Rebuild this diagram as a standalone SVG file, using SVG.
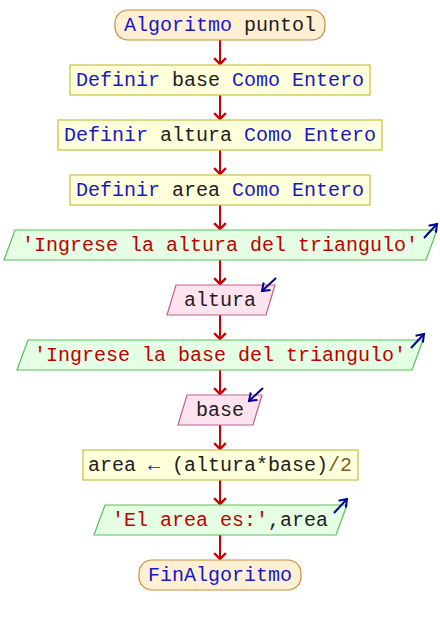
<svg xmlns="http://www.w3.org/2000/svg" width="440" height="625" viewBox="0 0 440 625">
<defs>
<style>
.t{font-family:"Liberation Mono","Courier New",monospace;font-size:20px;text-anchor:middle;fill:#202020}
.k{fill:#1818c8}
.s{fill:#c00000}
.n{fill:#806020}
.term{fill:#fff0d4;stroke:#cc8c3c;stroke-width:1.2}
.proc{fill:#ffffdc;stroke:#c4c040;stroke-width:1.2}
.out{fill:#e4ffe4;stroke:#58c058;stroke-width:1.2}
.inp{fill:#ffe4f0;stroke:#c06088;stroke-width:1.2}
.ico{stroke:#000090;stroke-width:2;fill:none}
.c{stroke:#cc0000;stroke-width:2;fill:none}
</style>
<marker id="ah" markerUnits="userSpaceOnUse" markerWidth="14" markerHeight="10" refX="6" refY="6" orient="0" viewBox="0 0 12 8" overflow="visible">
<path d="M1,1 L6,6 L11,1" stroke="#cc0000" stroke-width="2" fill="none"/>
</marker>
<marker id="ih" markerUnits="userSpaceOnUse" markerWidth="12" markerHeight="12" refX="8" refY="5" orient="auto" viewBox="0 0 12 10" overflow="visible">
<path d="M1,0 L8,5 L1,10" stroke="#000090" stroke-width="2" fill="none"/>
</marker>
</defs>
<g id="connectors">
<line class="c" x1="220" y1="40" x2="220" y2="64" marker-end="url(#ah)"/>
<line class="c" x1="220" y1="95" x2="220" y2="119" marker-end="url(#ah)"/>
<line class="c" x1="220" y1="150" x2="220" y2="174" marker-end="url(#ah)"/>
<line class="c" x1="220" y1="205" x2="220" y2="229" marker-end="url(#ah)"/>
<line class="c" x1="220" y1="260" x2="220" y2="284" marker-end="url(#ah)"/>
<line class="c" x1="220" y1="315" x2="220" y2="339" marker-end="url(#ah)"/>
<line class="c" x1="220" y1="370" x2="220" y2="394" marker-end="url(#ah)"/>
<line class="c" x1="220" y1="425" x2="220" y2="449" marker-end="url(#ah)"/>
<line class="c" x1="220" y1="480" x2="220" y2="504" marker-end="url(#ah)"/>
<line class="c" x1="220" y1="535" x2="220" y2="559" marker-end="url(#ah)"/>
</g>
<g id="start">
<rect class="term" x="115" y="10" width="210" height="30" rx="13" ry="13"/>
<text class="t" x="220" y="31"><tspan class="k">Algoritmo</tspan> puntol</text>
</g>
<g id="def-base">
<rect class="proc" x="70" y="65" width="300" height="30"/>
<text class="t" x="220" y="86"><tspan class="k">Definir</tspan> base <tspan class="k">Como Entero</tspan></text>
</g>
<g id="def-altura">
<rect class="proc" x="58" y="120" width="324" height="30"/>
<text class="t" x="220" y="141"><tspan class="k">Definir</tspan> altura <tspan class="k">Como Entero</tspan></text>
</g>
<g id="def-area">
<rect class="proc" x="70" y="175" width="300" height="30"/>
<text class="t" x="220" y="196"><tspan class="k">Definir</tspan> area <tspan class="k">Como Entero</tspan></text>
</g>
<g id="out-altura">
<polygon class="out" points="15,230 437,230 426,260 4,260"/>
<text class="t" x="220" y="251"><tspan class="s">'Ingrese la altura del triangulo'</tspan></text>
<line class="ico" x1="424" y1="238" x2="437" y2="224" marker-end="url(#ih)"/>
</g>
<g id="in-altura">
<polygon class="inp" points="176,285 275,285 266,315 167,315"/>
<text class="t" x="220" y="306">altura</text>
<line class="ico" x1="276" y1="278" x2="262" y2="291" marker-end="url(#ih)"/>
</g>
<g id="out-base">
<polygon class="out" points="28,340 423,340 412,370 17,370"/>
<text class="t" x="220" y="361"><tspan class="s">'Ingrese la base del triangulo'</tspan></text>
<line class="ico" x1="411" y1="348" x2="424" y2="334" marker-end="url(#ih)"/>
</g>
<g id="in-base">
<polygon class="inp" points="187,395 262,395 253,425 178,425"/>
<text class="t" x="220" y="416">base</text>
<line class="ico" x1="263" y1="388" x2="249" y2="401" marker-end="url(#ih)"/>
</g>
<g id="assign">
<rect class="proc" x="83" y="450" width="275" height="30"/>
<text class="t" x="220" y="471">area <tspan class="k">←</tspan> (altura*base)<tspan class="n">/2</tspan></text>
</g>
<g id="out-area">
<polygon class="out" points="105,505 347,505 336,535 94,535"/>
<text class="t" x="220" y="526"><tspan class="s">'El area es:'</tspan>,area</text>
<line class="ico" x1="334" y1="513" x2="347" y2="499" marker-end="url(#ih)"/>
</g>
<g id="end">
<rect class="term" x="139" y="560" width="162" height="30" rx="13" ry="13"/>
<text class="t" x="220" y="581"><tspan class="k">FinAlgoritmo</tspan></text>
</g>
</svg>
